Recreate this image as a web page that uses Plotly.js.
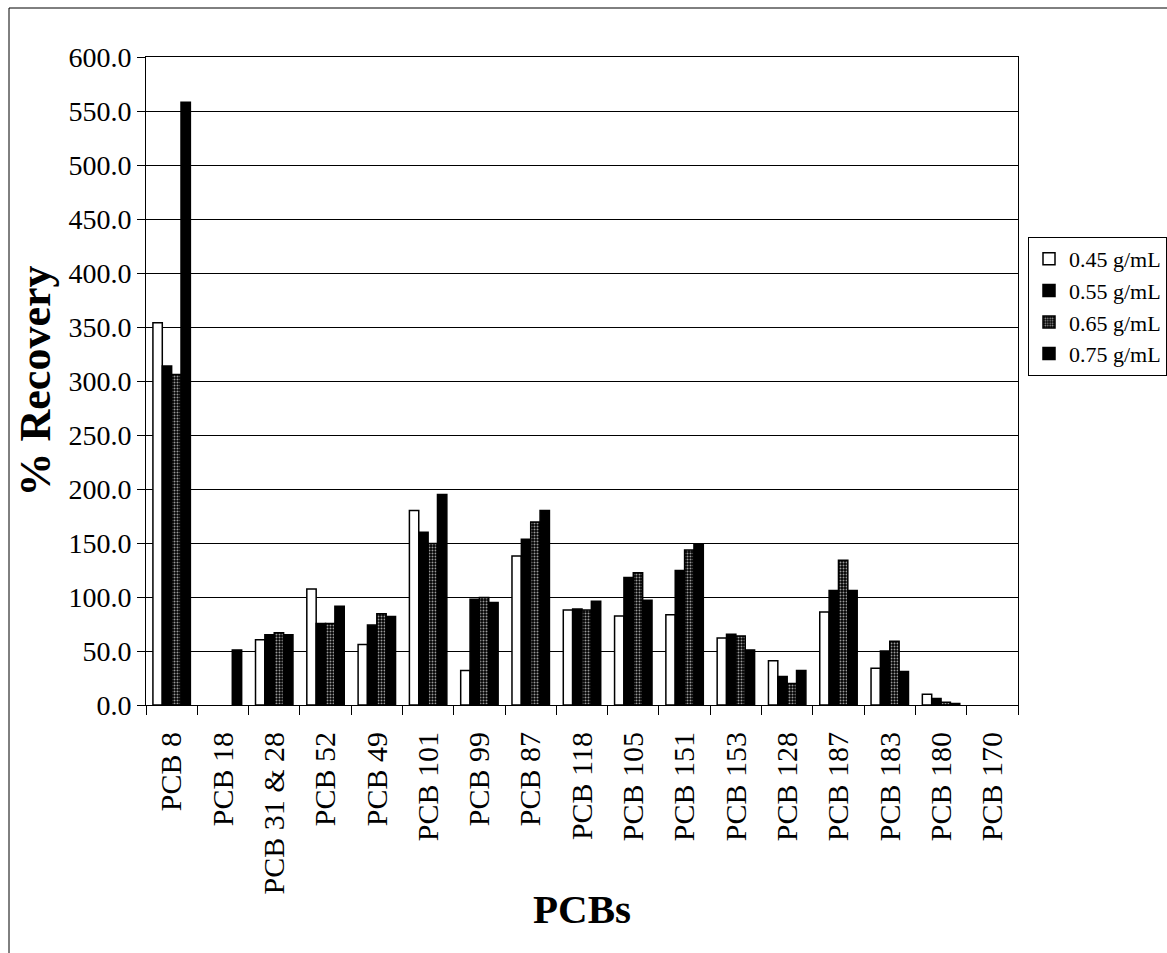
<!DOCTYPE html>
<html>
<head>
<meta charset="utf-8">
<script src="https://cdn.plot.ly/plotly-3.0.1.min.js"></script>
<style>html,body{margin:0;padding:0;background:#fff;}</style>
</head>
<body>
<div id="chart" style="width:1167px;height:953px;"></div>
<script>
const categories = ["PCB 8","PCB 18","PCB 31 & 28","PCB 52","PCB 49","PCB 101","PCB 99","PCB 87","PCB 118","PCB 105","PCB 151","PCB 153","PCB 128","PCB 187","PCB 183","PCB 180","PCB 170"];
const seriesNames = ["0.45 g/mL","0.55 g/mL","0.65 g/mL","0.75 g/mL"];
const v045 = [354, null, 60.5, 107.5, 56, 180, 32, 138, 88, 82.5, 83.5, 62, 41, 86, 34, 10, null];
const v055 = [314, null, 65, 75.5, 74, 160, 98, 153.5, 89, 118, 124.5, 65.5, 26.5, 106, 50, 6, null];
const v065 = [306, null, 67, 75.5, 84.5, 149.5, 99.5, 169.5, 88, 122.5, 143.5, 64, 20, 134, 59, 2.5, null];
const v075 = [558, 51, 65, 91.5, 82, 195, 95, 180, 96, 97, 149, 51, 32, 106, 31, 1.5, null];

const serif = "Liberation Serif, Times New Roman, serif";
const line = {color: "#000", width: 1.5};
const traces = [
  {type: "bar", name: seriesNames[0], x: categories, y: v045, marker: {color: "#fff", line: line}},
  {type: "bar", name: seriesNames[1], x: categories, y: v055, marker: {color: "#000", line: line}},
  {type: "bar", name: seriesNames[2], x: categories, y: v065, marker: {color: "#000", line: line,
      pattern: {shape: ".", fgcolor: "#9a9a9a", bgcolor: "#000", size: 3, solidity: 0.35, fillmode: "replace"}}},
  {type: "bar", name: seriesNames[3], x: categories, y: v075, marker: {color: "#000", line: line}}
];

const layout = {
  width: 1167, height: 953,
  margin: {l: 146, r: 149, t: 57, b: 248},
  paper_bgcolor: "#fff", plot_bgcolor: "#fff",
  font: {family: serif, color: "#000", size: 22},
  barmode: "group", bargap: 0.27, bargroupgap: 0,
  showlegend: true,
  legend: {xref: "container", yref: "container", x: 1028 / 1167, y: 1 - 237 / 953,
    xanchor: "left", yanchor: "top",
    bordercolor: "#000", borderwidth: 1, bgcolor: "#fff",
    font: {family: serif, size: 22, color: "#000"}, traceorder: "normal",
    itemwidth: 30, tracegroupgap: 0},
  xaxis: {
    type: "category", automargin: false, showline: true, linecolor: "#000", linewidth: 1, mirror: true,
    ticks: "outside", tickson: "boundaries", ticklen: 9, tickcolor: "#000",
    ticklabelstandoff: 14,
    tickangle: -90, tickfont: {family: serif, size: 30, color: "#000"},
    showgrid: false,
    title: {text: "<b>PCBs</b>", font: {family: serif, size: 41, color: "#000"}, standoff: 0}
  },
  yaxis: {
    range: [0, 600], dtick: 50, tickformat: ".1f", automargin: false,
    showline: true, linecolor: "#000", linewidth: 1, mirror: true,
    ticks: "outside", ticklen: 8, tickcolor: "#000",
    showgrid: true, gridcolor: "#000", gridwidth: 1, zeroline: false,
    tickfont: {family: serif, size: 28, color: "#000"},
    title: {text: "<b>% Recovery</b>", font: {family: serif, size: 44, color: "#000"}, standoff: 4}
  },
  shapes: [
    {type: "line", xref: "paper", yref: "paper",
      x0: (9 - 146) / 872, x1: (1167 - 146) / 872, y0: (705 - 8) / 648, y1: (705 - 8) / 648,
      line: {color: "#000", width: 1}, layer: "below"},
    {type: "line", xref: "paper", yref: "paper",
      x0: (9 - 146) / 872, x1: (9 - 146) / 872, y0: (705 - 8) / 648, y1: (705 - 953) / 648,
      line: {color: "#000", width: 1}, layer: "below"}
  ]
};

Plotly.newPlot("chart", traces, layout, {displayModeBar: false});
</script>
</body>
</html>
